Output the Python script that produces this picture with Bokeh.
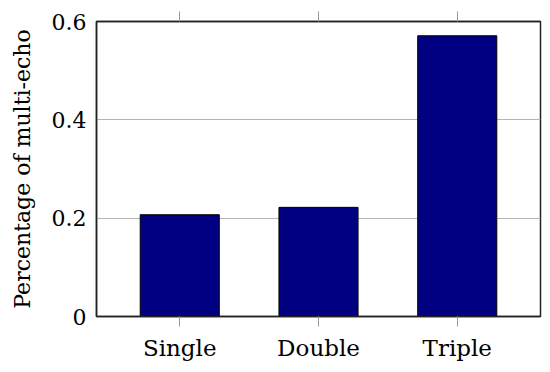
from bokeh.plotting import figure
from bokeh.models import Range1d, FactorRange, FixedTicker, CategoricalAxis
from bokeh.embed import file_html
from bokeh.resources import INLINE

categories = ["Single", "Double", "Triple"]
values = [0.207, 0.222, 0.571]
y_ticks = [0, 0.2, 0.4, 0.6]
y_tick_labels = ["0", "0.2", "0.4", "0.6"]
y_label = "Percentage of multi-echo"

FONT = "DejaVu Serif"
FS = "22px"

p = figure(
    x_range=FactorRange(*categories, range_padding=0.1, range_padding_units="absolute"),
    y_range=Range1d(0, 0.6),
    width=544, height=364,
    min_border_left=96, min_border_right=4, min_border_top=21, min_border_bottom=48,
    output_backend="svg", toolbar_location=None,
)

p.vbar(x=categories, top=values, width=0.57, fill_color="#000080",
       line_color="black", line_width=1)

p.outline_line_color = "#222222"
p.outline_line_width = 1.5
p.background_fill_color = "white"
p.border_fill_color = "white"

p.xgrid.visible = False
p.ygrid.ticker = FixedTicker(ticks=y_ticks)
p.ygrid.grid_line_color = "#b4b4b4"
p.ygrid.grid_line_width = 1

# y axis
ya = p.yaxis[0]
ya.ticker = FixedTicker(ticks=y_ticks)
ya.major_label_overrides = {t: l for t, l in zip(y_ticks, y_tick_labels)}
ya.major_tick_in = 0
ya.major_tick_out = 0
ya.minor_tick_in = 0
ya.minor_tick_out = 0
ya.axis_line_color = "#222222"
ya.axis_line_width = 1.5
ya.major_label_text_font = FONT
ya.major_label_text_font_size = FS
ya.major_label_text_color = "black"
ya.major_label_standoff = 10
ya.axis_label = y_label
ya.axis_label_text_font = FONT
ya.axis_label_text_font_size = FS
ya.axis_label_text_font_style = "normal"
ya.axis_label_text_color = "black"
ya.axis_label_standoff = 14

# x axis
xa = p.xaxis[0]
xa.major_tick_in = 0
xa.major_tick_out = 10
xa.major_tick_line_color = "#999999"
xa.major_tick_line_width = 1
xa.axis_line_color = "#222222"
xa.axis_line_width = 1.5
xa.major_label_text_font = FONT
xa.major_label_text_font_size = "23px"
xa.major_label_text_color = "black"
xa.major_label_standoff = 8

top = CategoricalAxis()
top.major_tick_in = 0
top.major_tick_out = 10
top.major_tick_line_color = "#999999"
top.major_tick_line_width = 1
top.axis_line_color = "#222222"
top.axis_line_width = 1.5
top.major_label_text_font_size = "0px"
top.major_label_standoff = 0
top.major_label_text_alpha = 0
p.add_layout(top, "above")

open("out.html", "w").write(file_html(p, INLINE))
